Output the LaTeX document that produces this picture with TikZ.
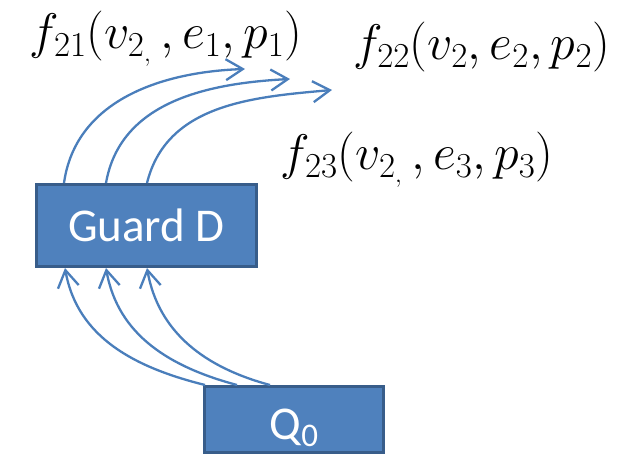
\RequirePackage{fix-cm}
\documentclass[tikz,border=0pt]{standalone}
\usepackage{fontspec}
\usepackage{tikz}
\usetikzlibrary{arrows.meta}
\newfontfamily\guardfont{Carlito}
\definecolor{boxfill}{HTML}{4F81BD}
\definecolor{boxline}{HTML}{385D8A}
\definecolor{arrowblue}{HTML}{4A7EBB}

\begin{document}
\begin{tikzpicture}[x=1pt, y=1pt,
  box/.style={draw=boxline, fill=boxfill, line width=3pt, text=white, font=\guardfont\fontsize{47}{56}\selectfont},
  flow/.style={-{Straight Barb[length=17pt,width=21pt]}, line width=2.3pt, draw=arrowblue},
  fnlabel/.style={font=\fontsize{50}{60}\selectfont, inner sep=0pt}]
  \useasboundingbox (0,0) rectangle (617,454);
  \clip (0,0) rectangle (617,454);
  \node[box, minimum width=220pt, minimum height=82pt] (guard) at (146.5,228.5) {Guard D};
  \node[box, minimum width=179pt, minimum height=66pt, inner sep=0pt, text height=48pt, text depth=7pt] (q0) at (294,34.5) {Q\raisebox{-7pt}{\fontsize{33}{33}\selectfont 0}};
  \node[fnlabel] (f21) at (166,415) {$f_{21}(v_{2_{,}}\,, e_1, p_1)$};
  \node[fnlabel] (f22) at (481.5,406.5) {$f_{22}(v_2, e_2, p_2)$};
  \node[fnlabel] (f23) at (417,294) {$f_{23}(v_{2_{,}}\,, e_3, p_3)$};
  \coordinate (tip1) at (245,385);
  \coordinate (tip2) at (290,375);
  \coordinate (tip3) at (332,364);
  \draw[flow] ([xshift=2pt]q0.north west) to[out=166, in=-80] ([xshift=30pt]guard.south west);
  \draw[flow] ([xshift=34pt]q0.north west) to[out=165, in=-80] ([xshift=71pt]guard.south west);
  \draw[flow] ([xshift=67pt]q0.north west) to[out=165, in=-80] ([xshift=112pt]guard.south west);
  \draw[flow] ([xshift=29pt]guard.north west) to[out=82, in=182] (tip1);
  \draw[flow] ([xshift=71pt]guard.north west) to[out=80, in=183] (tip2);
  \draw[flow] ([xshift=112pt]guard.north west) to[out=76, in=185] (tip3);
\end{tikzpicture}
\end{document}
